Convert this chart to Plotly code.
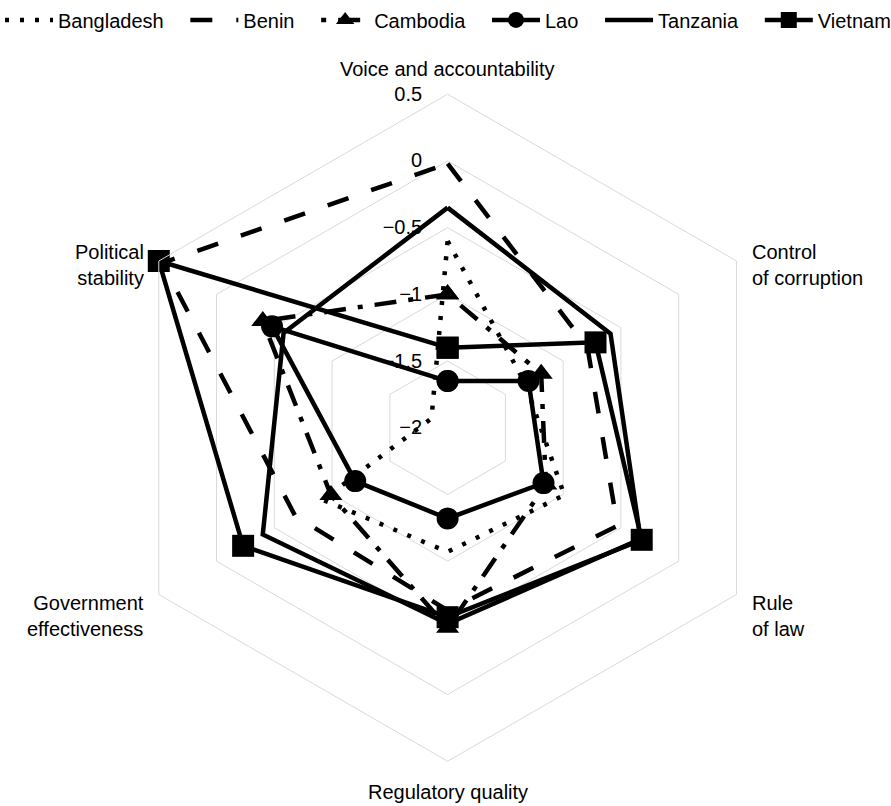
import plotly.graph_objects as go

categories = ["Voice and accountability", "Control of corruption", "Rule of law",
              "Regulatory quality", "Government effectiveness", "Political stability"]
category_labels = ["Voice and accountability", "Control<br>of corruption", "Rule<br>of law",
                   "Regulatory quality", "Government<br>effectiveness", "Political<br>stability"]

bangladesh = [-0.60, -1.33, -0.99, -1.07, -0.92, -1.86]
benin = [-0.02, -0.79, -0.53, -0.63, -0.68, 0.47]
cambodia = [-1.00, -1.19, -1.15, -0.50, -0.99, -0.40]
lao = [-1.65, -1.30, -1.17, -1.32, -1.20, -0.48]
tanzania = [-0.35, -0.59, -0.33, -0.53, -0.40, -0.58]
vietnam = [-1.40, -0.72, -0.32, -0.58, -0.23, 0.50]

tick_vals = [-2, -1.5, -1, -0.5, 0, 0.5]
tick_text = ["\u22122", "\u22121.5", "\u22121", "\u22120.5", "0", "0.5"]

# plotly hides markers when the radial range starts below zero, so the radial
# axis is drawn from its minimum (-2) as origin and relabelled with real values
R_MIN, R_MAX = -2, 0.5

series = [
    ("Bangladesh", bangladesh, "4px,11px", None, 0),
    ("Benin", benin, "22px,24px", None, 0),
    ("Cambodia", cambodia, "5px,12px,22px,12px", "triangle-up", 20),
    ("Lao", lao, "solid", "circle", 22),
    ("Tanzania", tanzania, "solid", None, 0),
    ("Vietnam", vietnam, "solid", "square", 22),
]

fig = go.Figure()
for i, (name, vals, dash, sym, size) in enumerate(series):
    r = [v - R_MIN for v in list(vals) + [vals[0]]]
    th = list(categories) + [categories[0]]
    if sym:
        kw = dict(mode="lines+markers",
                  marker=dict(symbol=sym, size=size, color="black",
                              line=dict(width=0)))
    else:
        kw = dict(mode="lines")
    pad = "\u00a0\u00a0\u00a0" if i < len(series) - 1 else ""
    fig.add_trace(go.Scatterpolar(
        r=r, theta=th, name=name + pad,
        customdata=list(vals) + [vals[0]],
        hovertemplate="%{theta}: %{customdata}<extra>" + name + "</extra>",
        line=dict(color="black", width=4.5, dash=dash),
        **kw))

W, H = 891, 806
cx, cy, R = 439, 423, 340

label_pos = [
    (cx, H - 60, "center", "middle"),
    (747, H - 258, "left", "middle"),
    (747, H - 614, "left", "middle"),
    (cx, H - 792, "center", "middle"),
    (131, H - 614, "right", "middle"),
    (131, H - 258, "right", "middle"),
]
annotations = []
for text, (x, y, xa, ya) in zip(category_labels, label_pos):
    annotations.append(dict(x=x / W, y=y / H, xref="paper", yref="paper",
                            text=text, showarrow=False, xanchor=xa, yanchor=ya,
                            align=xa, font=dict(size=20, color="black")))

fig.update_layout(
    width=W, height=H,
    margin=dict(l=0, r=0, t=0, b=0),
    paper_bgcolor="white",
    font=dict(family="Liberation Sans, Arial, sans-serif", size=20, color="black"),
    showlegend=True,
    legend=dict(orientation="h", x=-0.019, xanchor="left", y=1.012, yanchor="top",
                itemwidth=48, font=dict(size=20), bgcolor="rgba(0,0,0,0)"),
    annotations=annotations,
    polar=dict(
        domain=dict(x=[(cx - R) / W, (cx + R) / W],
                    y=[(H - cy - R) / H, (H - cy + R) / H]),
        bgcolor="white",
        gridshape="linear",
        radialaxis=dict(range=[0, R_MAX - R_MIN],
                        tickvals=[v - R_MIN for v in tick_vals], ticktext=tick_text,
                        angle=90, tickangle=90, side="counterclockwise",
                        showline=False, ticks="outside", ticklen=18,
                        tickcolor="rgba(0,0,0,0)", gridcolor="#d9d9d9", gridwidth=1,
                        tickfont=dict(size=20)),
        angularaxis=dict(direction="clockwise", rotation=90, type="category",
                         showgrid=False, showline=True, linecolor="#d9d9d9",
                         linewidth=1, ticks="", showticklabels=False),
    ),
)

fig.write_html("out.html", config={"displayModeBar": False},
               post_script="document.body.style.margin='0';")
